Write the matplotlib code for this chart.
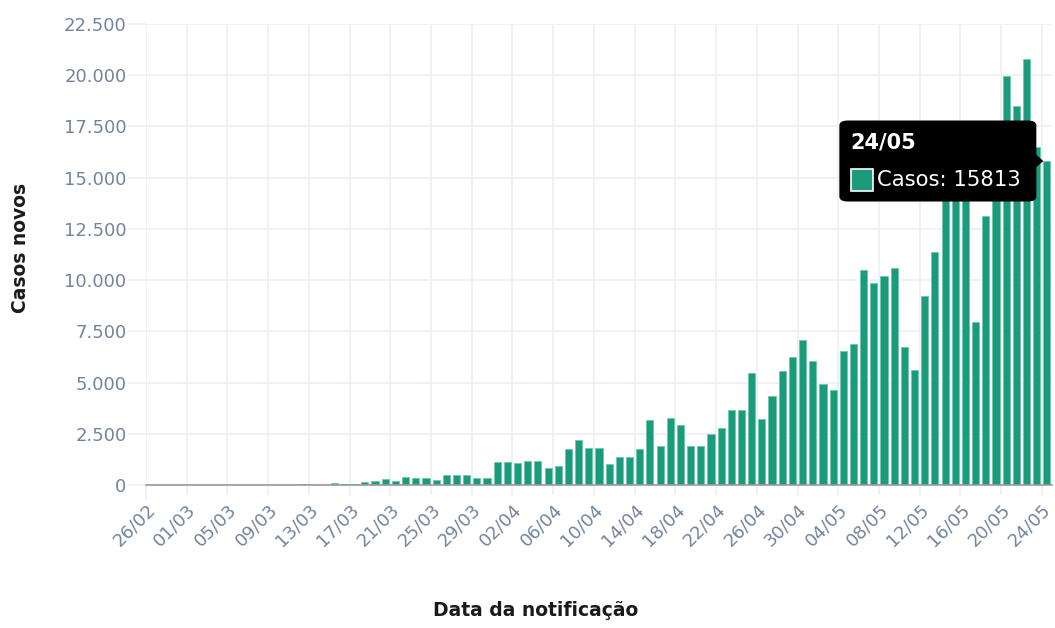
import matplotlib
matplotlib.use("Agg")
import matplotlib.pyplot as plt
from matplotlib.patches import FancyBboxPatch, Polygon, Rectangle
import pandas as pd
import numpy as np

# ---------------- data ----------------
dates = pd.date_range("2020-02-26", "2020-05-24").strftime("%d/%m").tolist()
casos = [
    1, 0, 0, 1, 0, 0, 0, 1, 5, 5, 6, 6, 0, 9, 18, 25, 21, 23, 79, 34,
    57, 130, 180, 270, 215, 410, 330, 320, 230, 480, 500, 490, 340, 330,
    1140, 1100, 1060, 1150, 1190, 820, 910, 1760, 2180, 1820, 1820, 1040,
    1360, 1360, 1740, 3150, 1900, 3280, 2950, 1890, 1890, 2470, 2800,
    3680, 3680, 5470, 3200, 4330, 5540, 6240, 7070, 6060, 4920, 4630,
    6550, 6890, 10480, 9850, 10210, 10580, 6730, 5590, 9230, 11360,
    13944, 15305, 14919, 7938, 13140, 17408, 19951, 18508, 20803, 16508,
    15813,
]
y_ticks = [0, 2500, 5000, 7500, 10000, 12500, 15000, 17500, 20000, 22500]
y_tick_labels = ["0", "2.500", "5.000", "7.500", "10.000", "12.500",
                 "15.000", "17.500", "20.000", "22.500"]
x_label = "Data da notificação"
y_label = "Casos novos"
tooltip_date = dates[-1]
tooltip_value = casos[-1]

# ---------------- style ----------------
W, H = 1055, 628
BAR = "#1a9b7b"
BAR_EDGE = "#74c9ad"
GRID = "#edf1f6"
TICK_TXT = "#73859c"
AXIS_DARK = "#9a9a9a"

fig = plt.figure(figsize=(W / 100, H / 100), dpi=100)
ax = fig.add_axes([146 / W, 1 - 485 / H, (1052 - 146) / W, (485 - 24) / H])

n = len(casos)
x = np.arange(n) + 0.5
ax.bar(x, casos, width=0.7, color=BAR, edgecolor=BAR_EDGE, linewidth=0.7, zorder=3)

ax.set_xlim(0, n)
ax.set_ylim(0, 22500)

xt = list(range(0, n, 4))
ax.set_xticks(xt)
ax.set_xticklabels([dates[i] for i in xt], rotation=45, ha="right", va="top",
                   rotation_mode="anchor", fontsize=13, color=TICK_TXT,
                   family="DejaVu Sans")
ax.set_yticks(y_ticks)
ax.set_yticklabels(y_tick_labels, fontsize=13, color=TICK_TXT, family="DejaVu Sans")

ax.tick_params(axis="x", length=7, width=1.3, color=GRID, pad=4)
ax.tick_params(axis="y", length=13, width=1.3, color=GRID, pad=1)
ax.yaxis.get_major_ticks()[0].tick1line.set_color(AXIS_DARK)
ax.xaxis.get_major_ticks()[0].tick1line.set_color(AXIS_DARK)
ax.xaxis.get_major_ticks()[0].tick1line.set_markersize(11)

ax.grid(True, color=GRID, linewidth=1.3, zorder=0)
ax.set_axisbelow(True)
for s in ["top", "right", "left"]:
    ax.spines[s].set_visible(False)
ax.spines["bottom"].set_color(AXIS_DARK)
ax.spines["bottom"].set_linewidth(1.2)
ax.spines["bottom"].set_zorder(4)

fig.text(536 / W, 1 - 611 / H, x_label, ha="center", va="center",
         fontsize=13.5, fontweight="bold", color="#1a1a1a", family="DejaVu Sans")
fig.text(21 / W, 1 - 248 / H, y_label, ha="center", va="center", rotation=90,
         fontsize=13.5, fontweight="bold", color="#1a1a1a", family="DejaVu Sans")

# ---------------- tooltip ----------------
fig.canvas.draw()
tip_x, tip_y = ax.transData.transform((n - 0.85, tooltip_value))
def fx(px):
    return px / W
def fy(py):
    return py / H
bw, bh = 197, 81
bx1 = tip_x - 7
by_c = tip_y
box = FancyBboxPatch((fx(bx1 - bw), fy(by_c - bh / 2)), fx(bw), fy(bh),
                     boxstyle="round,pad=0,rounding_size=0.008",
                     transform=fig.transFigure, facecolor="black",
                     edgecolor="none", zorder=10)
fig.add_artist(box)
arrow = Polygon([(fx(bx1 - 1), fy(by_c + 7)), (fx(tip_x), fy(by_c)),
                 (fx(bx1 - 1), fy(by_c - 7))], closed=True,
                transform=fig.transFigure, facecolor="black", edgecolor="none",
                zorder=10)
fig.add_artist(arrow)
left = bx1 - bw
top = by_c + bh / 2
fig.text(fx(left + 11), fy(top - 22), tooltip_date, ha="left", va="center",
         fontsize=15, fontweight="bold", color="white",
         family="DejaVu Sans", zorder=11)
sq = Rectangle((fx(left + 12), fy(top - 70)), fx(22), fy(22),
               transform=fig.transFigure, facecolor=BAR, edgecolor="white",
               linewidth=1.2, zorder=11)
fig.add_artist(sq)
fig.text(fx(left + 38), fy(top - 59), f"Casos: {tooltip_value}", ha="left",
         va="center", fontsize=15.2, color="white", family="DejaVu Sans",
         zorder=11)

fig.savefig("out.png", dpi=100, facecolor="white")
